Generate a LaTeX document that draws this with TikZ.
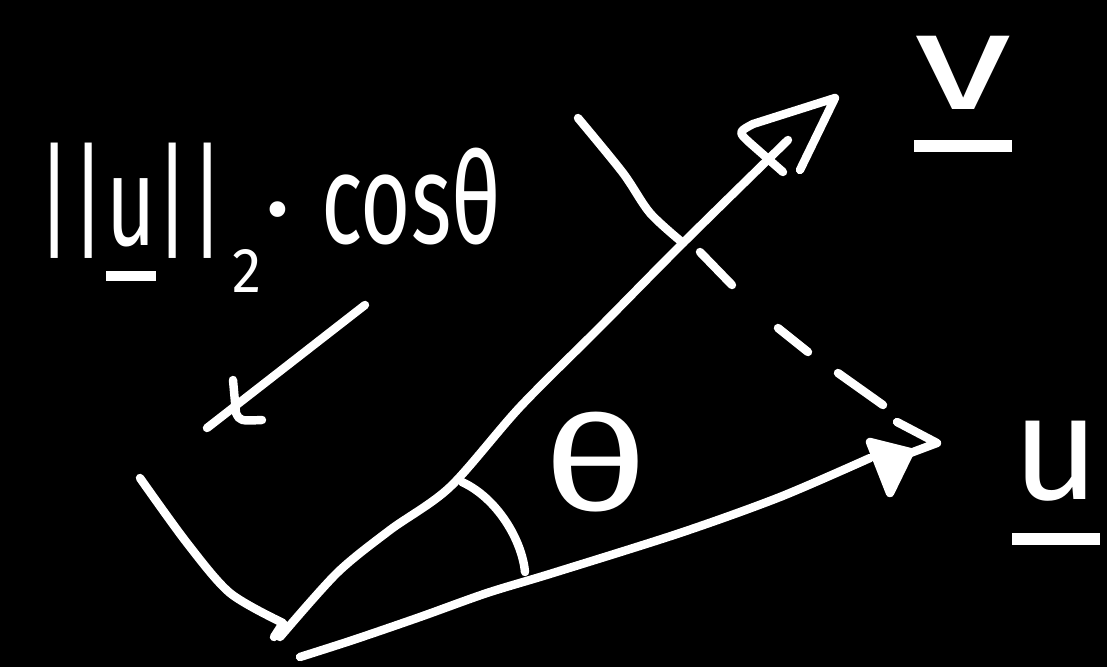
\documentclass[tikz,border=0pt]{standalone}
\usepackage{fontspec}
\usepackage{graphicx}
\newfontfamily\hand{Fira Sans}
\newcommand\uline[2][0.25em]{\leavevmode\setbox0=\hbox{#2}\rlap{\rule[-#1]{\wd0}{0.08em}}\box0}
\tikzset{
  pen/.style={draw=white, line width=4.8pt, line cap=round, line join=round},
  lbl/.style={text=white, inner sep=0pt, outer sep=0pt, font=\hand},
}
\begin{document}
\begin{tikzpicture}[x=0.02cm,y=-0.02cm]
\fill[black] (0,0) rectangle (1107,667);
\useasboundingbox (0,0) rectangle (1107,667);

% vector v
\coordinate (O) at (280,637);
\coordinate (v1) at (337,573);
\coordinate (v2) at (390,530);
\coordinate (v3) at (450,487);
\coordinate (v4) at (520,407);
\coordinate (v5) at (600,327);
\coordinate (v6) at (683,243);
\coordinate (vend) at (788,140);
\draw[pen] plot[smooth] coordinates {(O) (v1) (v2) (v3) (v4) (v5) (v6) (vend)};
\coordinate (vtip) at (835,98);
\coordinate (vh1) at (753,124);
\coordinate (vh2) at (750,143);
\coordinate (vh3) at (783,172);
\coordinate (vh4) at (800,170);
\draw[pen] (vh4) -- (vtip) -- (vh1) .. controls (738,132) .. (vh2) -- (vh3);

% vector u
\coordinate (U0) at (300,657);
\coordinate (u1) at (353,640);
\coordinate (u2) at (420,617);
\coordinate (u3) at (487,593);
\coordinate (u4) at (553,573);
\coordinate (u5) at (680,533);
\coordinate (u6) at (780,497);
\coordinate (uend) at (870,458);
\draw[pen] plot[smooth] coordinates {(U0) (u1) (u2) (u3) (u4) (u5) (u6) (uend)};
\coordinate (utip) at (937,443);
\coordinate (uh1) at (897,422);
\coordinate (uh2) at (905,455);
\draw[pen] (uh1) -- (utip) -- (uh2);
\coordinate (ut1) at (870,442);
\coordinate (ut2) at (910,452);
\coordinate (ut3) at (890,493);
\draw[pen, fill=white] (ut1) -- (ut2) -- (ut3) -- cycle;

% dashed projection line
\coordinate (d1) at (700,252);
\coordinate (d2) at (732,285);
\coordinate (d3) at (778,328);
\coordinate (d4) at (808,352);
\coordinate (d5) at (838,373);
\coordinate (d6) at (883,405);
\draw[pen] (d1) -- (d2) (d3) -- (d4) (d5) -- (d6);

% length bracket ends
\coordinate (b1) at (578,118);
\coordinate (b2) at (623,173);
\coordinate (b3) at (650,213);
\coordinate (b4) at (683,243);
\draw[pen] plot[smooth] coordinates {(b1) (b2) (b3) (b4)};
\coordinate (c1) at (140,478);
\coordinate (c2) at (187,543);
\coordinate (c3) at (230,593);
\coordinate (c4) at (283,623);
\coordinate (c5) at (274,637);
\draw[pen] plot[smooth] coordinates {(c1) (c2) (c3) (c4)} -- (c5);

% small pointer arrow
\coordinate (a1) at (365,305);
\coordinate (a2) at (207,428);
\coordinate (ah1) at (233,380);
\coordinate (ah2) at (236,413);
\coordinate (ah3) at (262,420);
\draw[pen] (a1) -- (a2);
\draw[pen] (ah1) -- (ah2) .. controls (240,421) .. (ah3);

% angle arc
\coordinate (g1) at (462,482);
\coordinate (g2) at (525,572);
\draw[pen] (g1) .. controls (497,498) and (522,540) .. (g2);

% labels
\node[lbl] (norm) at (131,212) {\resizebox*{3.74cm}{2.76cm}{||\uline[0.28em]{u}||}};
\node[lbl] (two) at (247,271) {\resizebox*{0.58cm}{0.86cm}{2}};
\node[lbl, anchor=base, font={\hand\fontsize{64pt}{64pt}\selectfont}] (dot) at (278,244) {·};
\node[lbl] (cos) at (411,197) {\resizebox*{3.6cm}{1.94cm}{cosθ}};
\node[lbl] (theta) at (596,462) {\resizebox*{2.1cm}{2.0cm}{θ}};
\node[lbl] (vlab) at (963,94) {\resizebox*{1.95cm}{2.3cm}{\uline[0.3em]{v}}};
\node[lbl] (ulab) at (1056,483) {\resizebox*{1.75cm}{2.46cm}{\uline[0.3em]{u}}};
\end{tikzpicture}
\end{document}
